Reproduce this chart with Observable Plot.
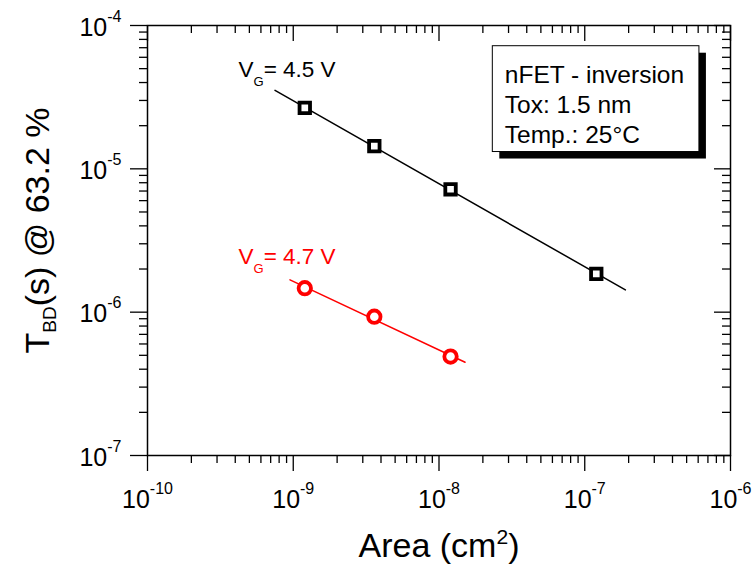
<!DOCTYPE html>
<html><head><meta charset="utf-8">
<script src="https://cdn.jsdelivr.net/npm/d3@7"></script>
<script src="https://cdn.jsdelivr.net/npm/@observablehq/plot@0.6"></script>
<style>body{margin:0;background:#fff;}</style>
</head><body><div id="chart"></div>
<script>
// ---- data ----
const areaVG45 = [1.2e-9, 3.6e-9, 1.2e-8, 1.2e-7];
const tbdVG45 = [2.66e-5, 1.44e-5, 7.2e-6, 1.85e-6];
const areaVG47 = [1.2e-9, 3.6e-9, 1.2e-8];
const tbdVG47 = [1.47e-6, 9.3e-7, 4.9e-7];
const fitVG45Area = [7.5e-10, 1.9e-7];
const fitVG45Tbd = [3.53e-5, 1.43e-6];
const fitVG47Area = [9.5e-10, 1.51e-8];
const fitVG47Tbd = [1.68e-6, 4.47e-7];
const xTickValues = [1e-10, 1e-9, 1e-8, 1e-7, 1e-6];
const xTickExponents = ["-10", "-9", "-8", "-7", "-6"];
const yTickValues = [1e-7, 1e-6, 1e-5, 1e-4];
const yTickExponents = ["-7", "-6", "-5", "-4"];
const minorMultipliers = [2, 3, 4, 5, 6, 7, 8, 9];
const seriesLabels = ["V_{G}= 4.5 V", "V_{G}= 4.7 V"];
const seriesColors = ["#000000", "#ff0000"];
const labelArea = [4.21e-10, 4.21e-10];
const labelTbd = [4.36e-5, 2.18e-6];
const infoLines = ["nFET - inversion", "Tox: 1.5 nm", "Temp.: 25°C"];
const infoBoxArea = [2.34e-8, 6.12e-7];
const infoBoxTbd = [7.17e-5, 1.31e-5];
const xTitle = "Area (cm^{2})";
const yTitle = "T_{BD}(s) @ 63.2 %";

// ---- tables built from the arrays ----
const pts45 = areaVG45.map((a, i) => ({a, t: tbdVG45[i]}));
const pts47 = areaVG47.map((a, i) => ({a, t: tbdVG47[i]}));
const fit45 = fitVG45Area.map((a, i) => ({a, t: fitVG45Tbd[i]}));
const fit47 = fitVG47Area.map((a, i) => ({a, t: fitVG47Tbd[i]}));
const xTicks = xTickValues.map((v, i) => ({v, e: xTickExponents[i]}));
const yTicks = yTickValues.map((v, i) => ({v, e: yTickExponents[i]}));
const minorOf = (vals) => vals.slice(0, -1).flatMap(d => minorMultipliers.map(k => k * d));
const xMinor = minorOf(xTickValues);
const yMinor = minorOf(yTickValues);
const labels = seriesLabels.map((s, i) => ({s, a: labelArea[i], t: labelTbd[i], c: seriesColors[i]}));
const box = {x1: infoBoxArea[0], x2: infoBoxArea[1], y1: infoBoxTbd[0], y2: infoBoxTbd[1]};

const W = 754, H = 567, ML = 147, MR = 24, MT = 25, MB = 112;
const IW = W - ML - MR, IH = H - MT - MB;
const FONT = "'Liberation Sans', Arial, Helvetica, sans-serif";
const TW = 1.3;

const chart = Plot.plot({
  width: W, height: H,
  marginLeft: ML, marginRight: MR, marginTop: MT, marginBottom: MB,
  x: {type: "log", domain: [1e-10, 1e-6], axis: null},
  y: {type: "log", domain: [1e-7, 1e-4], axis: null},
  style: {fontFamily: FONT, background: "white", color: "black", overflow: "visible"},
  marks: [
    // ticks: bottom outward, top inward
    Plot.tickX(xTickValues, {x: d => d, stroke: "black", strokeWidth: TW, insetTop: IH, insetBottom: -16}),
    Plot.tickX(xMinor, {x: d => d, stroke: "black", strokeWidth: TW, insetTop: IH, insetBottom: -8}),
    Plot.tickX(xTickValues, {x: d => d, stroke: "black", strokeWidth: TW, insetBottom: IH - 16}),
    Plot.tickX(xMinor, {x: d => d, stroke: "black", strokeWidth: TW, insetBottom: IH - 8}),
    // ticks: left outward, right inward
    Plot.tickY(yTickValues, {y: d => d, stroke: "black", strokeWidth: TW, insetRight: IW, insetLeft: -17}),
    Plot.tickY(yMinor, {y: d => d, stroke: "black", strokeWidth: TW, insetRight: IW, insetLeft: -8}),
    Plot.tickY(yTickValues, {y: d => d, stroke: "black", strokeWidth: TW, insetLeft: IW - 16}),
    Plot.tickY(yMinor, {y: d => d, stroke: "black", strokeWidth: TW, insetLeft: IW - 8}),
    // tick labels (10^{exp})
    Plot.text(xTicks, {x: "v", frameAnchor: "bottom", text: d => "10^{" + d.e + "}", textAnchor: "middle", lineAnchor: "bottom", dy: 52, fontSize: 25}),
    Plot.text(yTicks, {y: "v", frameAnchor: "left", text: d => "10^{" + d.e + "}", textAnchor: "end", lineAnchor: "bottom", dx: -26, dy: 10, fontSize: 25}),
    // axis titles
    Plot.text([xTitle], {frameAnchor: "bottom", text: d => d, textAnchor: "middle", lineAnchor: "bottom", dy: 101, fontSize: 34}),
    Plot.text([yTitle], {frameAnchor: "left", text: d => d, rotate: -90, textAnchor: "middle", lineAnchor: "bottom", dx: -99, dy: -10, fontSize: 34}),
    // fits
    Plot.line(fit45, {x: "a", y: "t", stroke: seriesColors[0], strokeWidth: 1.5}),
    Plot.line(fit47, {x: "a", y: "t", stroke: seriesColors[1], strokeWidth: 1.5}),
    // points
    Plot.dot(pts45, {x: "a", y: "t", symbol: "square", r: 5.9, stroke: seriesColors[0], strokeWidth: 3.8, fill: "white"}),
    Plot.dot(pts47, {x: "a", y: "t", symbol: "circle", r: 6.2, stroke: seriesColors[1], strokeWidth: 3.8, fill: "white"}),
    // series labels
    Plot.text(labels, {x: "a", y: "t", text: "s", fill: "c", textAnchor: "start", lineAnchor: "bottom", fontSize: 22.5}),
    // info box with shadow
    Plot.rect([box], {x1: "x1", x2: "x2", y1: "y1", y2: "y2", fill: "black", dx: 7, dy: 7}),
    Plot.rect([box], {x1: "x1", x2: "x2", y1: "y1", y2: "y2", fill: "white", stroke: "black", strokeWidth: 1}),
    Plot.text([infoLines.join("\n")], {x: () => box.x1, y: () => box.y1, text: d => d, textAnchor: "start", lineAnchor: "top", lineHeight: 1.224, dx: 12, dy: 15.2, fontSize: 24.5}),
    Plot.frame({stroke: "black", strokeWidth: 1.5})
  ]
});
document.getElementById("chart").appendChild(chart);

// ---- rich text: ^{sup} and _{sub} become tspans ----
const richCfg = {
  [seriesLabels[0]]: {shift: 0.4, scale: 0.58},
  [seriesLabels[1]]: {shift: 0.4, scale: 0.58},
  [xTitle]: {shift: 0.38, scale: 0.62},
  [yTitle]: {shift: 0.22, scale: 0.56}
};
const tickCfg = {shift: 0.56, scale: 0.64};
const NS = "http://www.w3.org/2000/svg";
chart.querySelectorAll("text").forEach(t => {
  const s = t.textContent;
  if (!/[\^_]\{/.test(s)) return;
  const cfg = richCfg[s] || tickCfg;
  const fs = parseFloat(getComputedStyle(t).fontSize);
  const re = /([\^_])\{([^}]*)\}/g;
  const parts = [];
  let last = 0, m;
  while ((m = re.exec(s))) {
    if (m.index > last) parts.push({txt: s.slice(last, m.index), k: ""});
    parts.push({txt: m[2], k: m[1]});
    last = re.lastIndex;
  }
  if (last < s.length) parts.push({txt: s.slice(last), k: ""});
  while (t.firstChild) t.removeChild(t.firstChild);
  let cur = 0;
  for (const p of parts) {
    const ts = document.createElementNS(NS, "tspan");
    const target = p.k === "^" ? -cfg.shift * fs : p.k === "_" ? cfg.shift * fs : 0;
    if (target !== cur) ts.setAttribute("dy", (target - cur).toFixed(2));
    cur = target;
    if (p.k) ts.setAttribute("font-size", (cfg.scale * fs).toFixed(2));
    ts.textContent = p.txt;
    t.appendChild(ts);
  }
});
</script>
</body></html>
